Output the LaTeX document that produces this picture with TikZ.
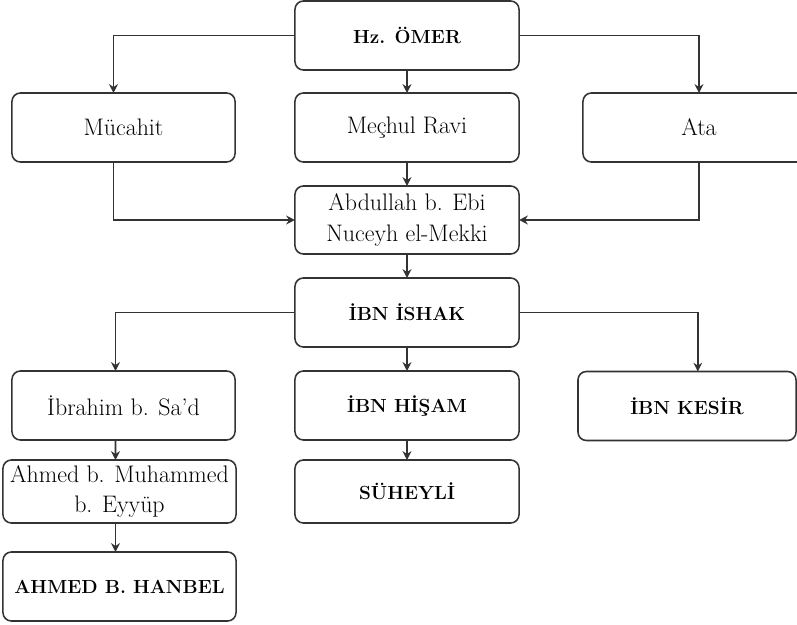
\documentclass[tikz,border=0pt]{standalone}
\usepackage{fontspec}
\usetikzlibrary{arrows.meta}
\begin{document}
\begin{tikzpicture}[x=0.025cm,y=-0.025cm]
    \tikzstyle{box}=[draw=black!80,line width=1.1pt,rounded corners=6pt,minimum width=5.6cm,minimum height=1.725cm,inner sep=2pt,outer sep=0pt,align=center,font=\fontsize{17}{22}\selectfont]
    \tikzstyle{bbox}=[box,font=\fontsize{13.5}{18}\selectfont\bfseries]
    \tikzstyle{link}=[draw=black!80,line width=1.1pt,-{Stealth[length=2.2mm,width=2.2mm]}]

    \useasboundingbox (0,0) rectangle (797,625);

    \node[bbox] at (407,35.5) (omer) {Hz. ÖMER};
    \node[box,minimum width=5.575cm] at (123.5,127.5) (mucahit) {Mücahit};
    \node[box] at (407,127.5) (mechul) {Meçhul Ravi};
    \node[box,minimum width=5.8cm] at (699,127.5) (ata) {Ata};
    \node[box,minimum height=1.7cm] at (407,220) (abdullah) {Abdullah b. Ebi\\Nuceyh el-Mekki};
    \node[bbox] at (407,312.5) (ishak) {İBN İSHAK};
    \node[box,minimum width=5.575cm] at (123.5,405.5) (ibrahim) {İbrahim b. Sa’d};
    \node[bbox] at (407,405.5) (hisam) {İBN HİŞAM};
    \node[bbox,minimum width=5.45cm] at (687,406) (kesir) {İBN KESİR};
    \node[box,minimum width=5.825cm,minimum height=1.575cm] at (119.5,491.5) (ahmed) {Ahmed b. Muhammed\\b. Eyyüp};
    \node[bbox,minimum height=1.575cm] at (407,491.5) (suheyli) {SÜHEYLİ};
    \node[bbox,minimum width=5.825cm] at (119.5,586.5) (hanbel) {AHMED B. HANBEL};

    % first generation
    \draw[link] (omer.west) -| ([xshift=-0.25cm]mucahit.north);
    \draw[link] (omer) -- (mechul);
    \draw[link] (omer.east) -| (ata.north);

    % into Abdullah
    \draw[link] ([xshift=-0.25cm]mucahit.south) |- (abdullah.west);
    \draw[link] (mechul) -- (abdullah);
    \draw[link] (ata.south) |- (abdullah.east);
    \draw[link] (abdullah) -- (ishak);

    % from Ibn Ishak
    \draw[link] (ishak.west) -| ([xshift=-0.2cm]ibrahim.north);
    \draw[link] (ishak) -- (hisam);
    \draw[link] (ishak.east) -| ([xshift=0.27cm]kesir.north);
    \draw[link] (hisam) -- (suheyli);
    \draw[link] ([xshift=-0.2cm]ibrahim.south) -- ([xshift=-0.1cm]ahmed.north);
    \draw[link] ([xshift=-0.1cm]ahmed.south) -- ([xshift=-0.1cm]hanbel.north);
\end{tikzpicture}
\end{document}
